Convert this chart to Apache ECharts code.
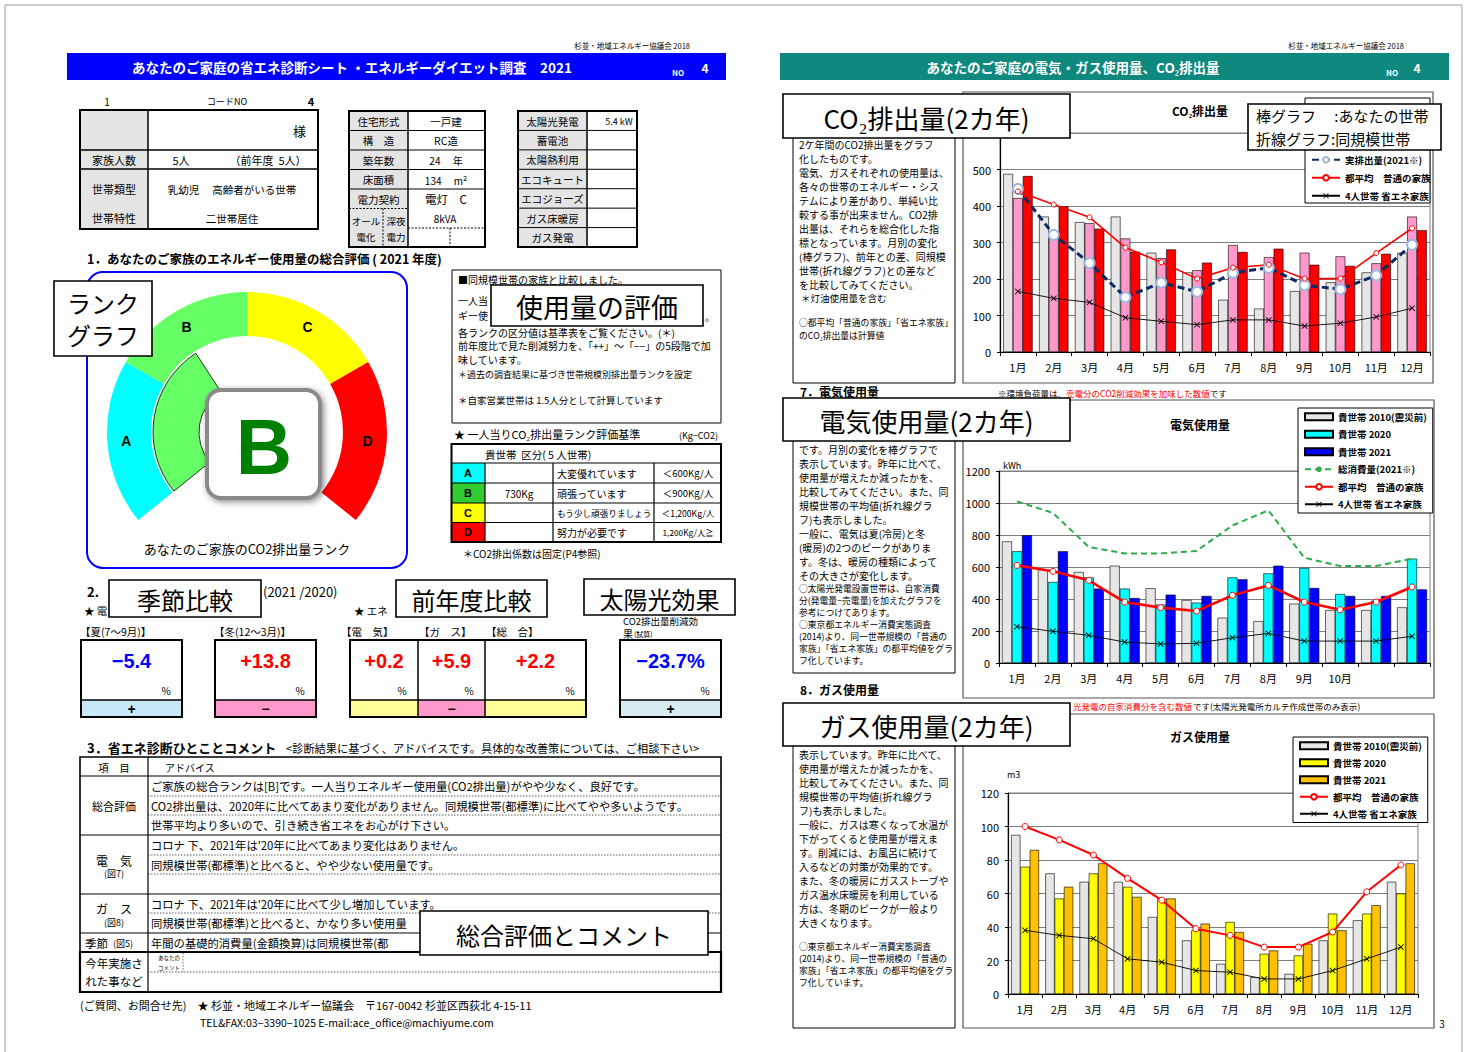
<!DOCTYPE html>
<html><head><meta charset="utf-8">
<script src="https://cdn.jsdelivr.net/npm/echarts@6/dist/echarts.min.js"></script>
<style>html,body{margin:0;padding:0;background:#fff}#c{width:1468px;height:1052px}</style>
</head><body><div id="c"></div>
<script>
// ---------------- DATA ----------------
const months = ['1月','2月','3月','4月','5月','6月','7月','8月','9月','10月','11月','12月'];
const elecMonthLabels = ['1月','2月','3月','4月','5月','6月','7月','8月','9月','10月','',''];
// CO2 (kg)
const co2Household2010 = [488,371,356,371,272,218,143,119,167,191,218,272];
const co2Household2020 = [422,312,353,311,257,224,293,260,272,262,243,371];
const co2Household2021 = [482,399,338,275,281,245,274,283,239,236,269,334];
const co2Actual2021    = [447,321,244,150,190,165,217,231,183,172,210,294];
const co2TokyoAvg      = [440,404,369,286,246,201,231,239,201,201,271,339];
const co2SavingFamily  = [166,147,136,94,84,75,88,88,71,79,96,120];
// Electricity (kWh)
const elecHousehold2010 = [760,585,569,608,467,394,283,262,371,331,331,348];
const elecHousehold2020 = [698,506,535,465,365,377,535,560,594,431,390,652];
const elecHousehold2021 = [798,698,465,406,427,419,523,608,469,419,419,460];
const elecTotal2021     = [1010,938,725,685,685,700,860,954,658,606,606,652];
const elecTokyoAvg      = [610,573,517,381,346,325,423,485,381,333,381,475];
const elecSavingFamily  = [227,198,173,131,119,123,158,185,137,137,137,167];
// Gas (m3)
const gasHousehold2010 = [95,72,67,67,46,32,18,10,12,32,44,67];
const gasHousehold2020 = [76,57,72,64,57,38,43,24,23,48,48,60];
const gasHousehold2021 = [86,64,78,58,57,42,37,26,30,38,53,78];
const gasTokyoAvg      = [100,92,83,69,56,39,35,28,28,37,61,77];
const gasSavingFamily  = [38,35,33,21,19,14,13,9,9,14,21,28];
// Rank gauge
const rankNames = ['A','B','C','D'];
const rankArcDeg = [69,60,60,69];
const rankColors = ['#00ffff','#66ff66','#ffff00','#ff0000'];
const myRankArcDeg = 96;

// ---------------- HELPERS ----------------
const FF = 'Noto Sans CJK JP';
const AR = 'Liberation Sans';
const G = [];
function T(x, y, text, o) {
  o = o || {};
  const a = o.a || 'left', va = o.va || 'middle';
  const st = {x: x, y: y, text: text, fill: o.c || '#000', fontSize: o.s || 11,
    fontWeight: o.b ? 'bold' : 'normal', fontFamily: o.f || FF,
    align: a, textAlign: a, verticalAlign: va, textVerticalAlign: va};
  if (o.lh) st.lineHeight = o.lh;
  if (o.rich) st.rich = o.rich;
  G.push({type: 'text', silent: true, z: o.z == null ? 20 : o.z, style: st});
}
function R(x, y, w, h, o) {
  o = o || {};
  const st = {fill: o.fill || 'none', stroke: o.stroke || 'none', lineWidth: o.lw == null ? 1 : o.lw};
  if (o.dash) st.lineDash = o.dash;
  if (o.shadow) { st.shadowBlur = o.shadow; st.shadowColor = 'rgba(0,0,0,0.45)'; st.shadowOffsetX = 2; st.shadowOffsetY = 2; }
  G.push({type: 'rect', silent: true, z: o.z == null ? 1 : o.z, shape: {x: x, y: y, width: w, height: h, r: o.r || 0}, style: st});
}
function L(x1, y1, x2, y2, o) {
  o = o || {};
  const st = {stroke: o.c || '#000', lineWidth: o.lw == null ? 1 : o.lw};
  if (o.dash) st.lineDash = o.dash;
  G.push({type: 'line', silent: true, z: o.z == null ? 5 : o.z, shape: {x1: x1, y1: y1, x2: x2, y2: y2}, style: st});
}
function BOX(x, y, w, h, text, s) {
  R(x, y, w, h, {fill: '#fff', stroke: '#000', lw: 1.6, z: 100});
  if (text) T(x + w / 2, y + h / 2 + 1, text, {s: s, a: 'center', z: 101});
}
function lines(x, y0, dy, arr, o) { arr.forEach(function (s, i) { T(x, y0 + i * dy, s, o); }); }

// ---------------- PAGE ----------------
R(5, 5, 1457, 1060, {stroke: '#9a9a9a', lw: 1, z: 0});

// ===== LEFT PAGE =====
T(690, 45, '杉並・地域エネルギー協議会 2018', {s: 7.5, a: 'right'});
R(67, 53, 659, 27, {fill: '#0000ff'});
T(352, 66.5, 'あなたのご家庭の省エネ診断シート ・エネルギーダイエット調査　2021', {s: 13.5, b: 1, c: '#fff', a: 'center'});
T(678, 72, 'NO', {s: 8, b: 1, c: '#fff', a: 'center'});
T(705, 67, '4', {s: 12, b: 1, c: '#fff', a: 'center'});

T(107, 101, '1', {s: 10, a: 'center'});
T(227, 101, 'コードNO', {s: 9, a: 'center'});
T(311, 101, '4', {s: 11, b: 1, a: 'center'});

// table 1
R(80, 110, 68, 119, {fill: '#e4e4e4'});
R(80, 110, 238, 119, {stroke: '#000', lw: 2, z: 6});
L(148, 110, 148, 229, {lw: 1.5});
L(80, 150, 318, 150, {lw: 1.5});
L(80, 169, 318, 169, {lw: 1.5});
T(306, 130, '様', {s: 13, a: 'right'});
T(114, 159.5, '家族人数', {s: 11, a: 'center'});
T(181, 159.5, '5人', {s: 11, a: 'center'});
T(268, 159.5, '（前年度  5人）', {s: 11, a: 'center'});
T(114, 189, '世帯類型', {s: 11, a: 'center'});
T(232, 189, '乳幼児　 高齢者がいる世帯', {s: 10.5, a: 'center'});
T(114, 218, '世帯特性', {s: 11, a: 'center'});
T(232, 218, '二世帯居住', {s: 10.5, a: 'center'});

// table 2
R(349, 111, 59, 136, {fill: '#e4e4e4'});
R(349, 111, 136, 136, {stroke: '#000', lw: 2, z: 6});
L(408, 111, 408, 247, {lw: 1.5});
[130.5, 150, 169.5, 189].forEach(function (y) { L(349, y, 485, y, {lw: 1}); });
L(349, 208.5, 408, 208.5, {lw: 1, dash: [2, 1.5]});
L(383, 208.5, 383, 247, {lw: 1, dash: [2, 1.5]});
L(408, 228, 485, 228, {lw: 1, dash: [2, 1.5]});
L(450, 228, 450, 247, {lw: 1, dash: [2, 1.5]});
lines(378.5, 121, 19.5, ['住宅形式', '構　造', '築年数', '床面積', '電力契約'], {s: 10.5, a: 'center'});
T(446, 121, '一戸建', {s: 10.5, a: 'center'});
T(446, 140.5, 'RC造', {s: 10.5, a: 'center'});
T(446, 160, '24　 年', {s: 10, a: 'center'});
T(446, 180, '134　 m²', {s: 10, a: 'center'});
T(446, 199, '電灯　C', {s: 11.5, a: 'center'});
T(445, 218, '8kVA', {s: 10, a: 'center'});
T(366, 221, 'オール', {s: 9.5, a: 'center'});
T(366, 237, '電化', {s: 9.5, a: 'center'});
T(396, 221, '深夜', {s: 9.5, a: 'center'});
T(396, 237, '電力', {s: 9.5, a: 'center'});

// table 3
R(518, 111, 69, 136, {fill: '#e4e4e4'});
R(518, 111, 119, 136, {stroke: '#000', lw: 2, z: 6});
L(587, 111, 587, 247, {lw: 1.5});
for (let i = 1; i < 7; i++) L(518, 111 + i * 19.43, 637, 111 + i * 19.43, {lw: 1});
lines(552.5, 121, 19.43, ['太陽光発電', '蓄電池', '太陽熱利用', 'エコキュート', 'エコジョーズ', 'ガス床暖房', 'ガス発電'], {s: 10.5, a: 'center'});
T(619, 121, '5.4 kW', {s: 9, a: 'center'});

// section 1
T(87, 258, '1．あなたのご家族のエネルギー使用量の総合評価 ( 2021 年度)', {s: 12.5, b: 1});
R(87, 272, 320, 296, {stroke: '#0000ff', lw: 2, r: 16});
BOX(54, 281, 98, 75, '', 24);
T(103, 318, 'ランク\nグラフ', {s: 24, a: 'center', z: 101, lh: 32});
R(207, 390, 113, 108, {fill: '#fff', stroke: '#8a8a8a', lw: 4, r: 14, z: 10, shadow: 6});
T(264, 447, 'B', {s: 78, b: 1, c: '#008000', f: AR, a: 'center', z: 11});
T(247, 548, 'あなたのご家族のCO2排出量ランク', {s: 13, a: 'center'});

// evaluation text box
R(452, 270, 269, 153, {stroke: '#000', lw: 1});
T(458, 279, '■同規模世帯の家族と比較しました。', {s: 10});
T(458, 300, '一人当', {s: 10});
T(458, 315, 'ギー使', {s: 10});
T(705, 316, '。', {s: 10});
T(458, 332, '各ランクの区分値は基準表をご覧ください。(＊)', {s: 10});
T(458, 345, '前年度比で見た削減努力を、「++」〜「−−」の5段階で加', {s: 10});
T(458, 359, '味しています。', {s: 10});
T(458, 374, '＊過去の調査結果に基づき世帯規模別排出量ランクを設定', {s: 9});
T(458, 400, '＊自家営業世帯は 1.5人分として計算しています', {s: 9.5});
BOX(491, 285, 212, 41, '使用量の評価', 27);

// rank table
T(454, 434, '★ 一人当りCO₂排出量ランク評価基準', {s: 11});
T(718, 435, '(Kg−CO2)', {s: 9, a: 'right'});
R(451.5, 444, 269.5, 98, {stroke: '#000', lw: 2, z: 6});
T(485, 454, '貴世帯  区分( 5 人世帯)', {s: 10.5});
const rankRowY = [463, 483, 503, 522.5, 542];
for (let i = 0; i < 4; i++) {
  R(451.5, rankRowY[i], 33.5, rankRowY[i + 1] - rankRowY[i], {fill: ['#00ffff', '#33cc33', '#ffff00', '#ff0000'][i]});
  L(451.5, rankRowY[i], 721, rankRowY[i], {lw: 1.2});
  T(468, (rankRowY[i] + rankRowY[i + 1]) / 2, rankNames[i], {s: 11, b: 1, f: AR, a: 'center'});
}
L(485, 463, 485, 542, {lw: 1.2});
L(553, 463, 553, 542, {lw: 1.2});
L(654, 463, 654, 542, {lw: 1.2});
T(519, 493, '730Kg', {s: 10, a: 'center'});
T(557, 473, '大変優れています', {s: 10});
T(557, 493, '頑張っています', {s: 10});
T(557, 513, 'もう少し頑張りましょう', {s: 8.6});
T(557, 532, '努力が必要です', {s: 10});
T(688, 473, '＜600Kg/人', {s: 9.5, a: 'center'});
T(688, 493, '＜900Kg/人', {s: 9.5, a: 'center'});
T(688, 513, '＜1,200Kg/人', {s: 8.6, a: 'center'});
T(688, 532, '1,200Kg/人≧', {s: 8.3, a: 'center'});
T(463, 553, '＊CO2排出係数は固定(P4参照)', {s: 10});

// section 2
T(87, 591, '2.', {s: 13, b: 1});
T(263, 591, '(2021 /2020)', {s: 13});
T(84, 610, '★ 電', {s: 10.5});
T(354, 610, '★ エネ', {s: 10.5});
T(623, 621, 'CO2排出量削減効', {s: 9.5});
T(623, 633, '果', {s: 10});
T(634, 634, '(試算)', {s: 7});
BOX(109, 580, 152, 37, '季節比較', 24);
BOX(396, 580, 151, 37, '前年度比較', 24);
BOX(584, 579, 151, 36, '太陽光効果', 24);
T(80, 631, '【夏(7〜9月)】', {s: 10.5});
T(214, 631, '【冬(12〜3月)】', {s: 10.5});
T(341, 631, '【電　気】', {s: 10.5});
T(419, 631, '【ガ　ス】', {s: 10.5});
T(486, 631, '【総　合】', {s: 10.5});
function valueBox(x, w, val, col, signText, signFill) {
  R(x, 700, w, 17, {fill: signFill});
  L(x, 700, x + w, 700, {lw: 1.5});
  T(x + w / 2, 661, val, {s: 20, b: 1, f: AR, c: col, a: 'center'});
  T(x + w - 16, 690, '%', {s: 10, a: 'center'});
  if (signText) T(x + w / 2, 708.5, signText, {s: 14, b: 1, f: AR, a: 'center'});
}
valueBox(81, 101, '−5.4', '#0000ff', '+', '#c8e8f8');
R(81, 640, 101, 77, {stroke: '#000', lw: 2, z: 6});
valueBox(215, 101, '+13.8', '#ff0000', '−', '#ff99cc');
R(215, 640, 101, 77, {stroke: '#000', lw: 2, z: 6});
valueBox(350, 68, '+0.2', '#ff0000', '', '#ffff99');
valueBox(418, 67, '+5.9', '#ff0000', '−', '#ff99cc');
valueBox(485, 101, '+2.2', '#ff0000', '', '#ffff99');
L(418, 640, 418, 717, {lw: 1.5});
L(485, 640, 485, 717, {lw: 1.5});
R(350, 640, 236, 77, {stroke: '#000', lw: 2, z: 6});
valueBox(620, 101, '−23.7%', '#0000ff', '+', '#d8ecf4');
R(620, 640, 101, 77, {stroke: '#000', lw: 2, z: 6});

// section 3
T(87, 747, '3．省エネ診断ひとことコメント', {s: 13, b: 1});
T(286, 748, '<診断結果に基づく、アドバイスです。具体的な改善策については、ご相談下さい>', {s: 11.2});
R(80, 757, 641, 195, {stroke: '#000', lw: 1.6, z: 6});
R(80, 952, 641, 40, {stroke: '#000', lw: 2.2, z: 6});
L(148, 757, 148, 992, {lw: 1.2});
[776, 835, 894, 933].forEach(function (y) { L(80, y, 721, y, {lw: 1.2}); });
[796, 815, 855, 874, 913, 972].forEach(function (y) { L(148, y, 721, y, {lw: 0.8, dash: [1.5, 1.5], c: '#333'}); });
L(183, 953, 183, 972, {lw: 0.8, dash: [1.5, 1.5], c: '#555'});
T(114, 767, '項　目', {s: 10.5, a: 'center'});
T(165, 767, 'アドバイス', {s: 10});
T(114, 806, '総合評価', {s: 11, a: 'center'});
T(114, 860, '電　気', {s: 12, a: 'center'});
T(114, 873, '(図7)', {s: 9, a: 'center'});
T(114, 908, 'ガ　ス', {s: 12, a: 'center'});
T(114, 922, '(図8)', {s: 9, a: 'center'});
T(85, 943, '季節', {s: 11.5});
T(113, 943, '(図5)', {s: 9});
T(114, 963, '今年実施さ', {s: 11.5, a: 'center'});
T(114, 981, 'れた事など', {s: 11.5, a: 'center'});
T(158, 958, 'あなたの', {s: 5.5});
T(158, 968, 'コメント', {s: 5.5});
T(151, 786, 'ご家族の総合ランクは[B]です。一人当りエネルギー使用量(CO2排出量)がやや少なく、良好です。', {s: 11.3});
T(151, 806, 'CO2排出量は、2020年に比べてあまり変化がありません。同規模世帯(都標準)に比べてやや多いようです。', {s: 11.3});
T(151, 825, '世帯平均より多いので、引き続き省エネをお心がけ下さい。', {s: 11.3});
T(151, 845, 'コロナ 下、2021年は\'20年に比べてあまり変化はありません。', {s: 11.3});
T(151, 865, '同規模世帯(都標準)と比べると、やや少ない使用量です。', {s: 11.3});
T(151, 903.5, 'コロナ 下、2021年は\'20年に比べて少し増加しています。', {s: 11.3});
T(151, 923, '同規模世帯(都標準)と比べると、かなり多い使用量', {s: 11.3});
T(151, 943, '年間の基礎的消費量(金額換算)は同規模世帯(都', {s: 11.3});
BOX(420, 911, 288, 44, '総合評価とコメント', 24);

T(80, 1005, '(ご質問、お問合せ先)　★ 杉並・地域エネルギー協議会　〒167-0042 杉並区西荻北 4-15-11', {s: 11});
T(200, 1022, 'TEL&FAX:03−3390−1025 E-mail:ace_office@machiyume.com', {s: 10.5});

// ===== RIGHT PAGE =====
T(1404, 45, '杉並・地域エネルギー協議会 2018', {s: 7.5, a: 'right'});
R(780, 53, 669, 27, {fill: '#0f887d'});
T(1073, 66.5, 'あなたのご家庭の電気・ガス使用量、CO₂排出量', {s: 13.5, b: 1, c: '#fff', a: 'center'});
T(1392, 72, 'NO', {s: 8, b: 1, c: '#fff', a: 'center'});
T(1417, 67, '4', {s: 12, b: 1, c: '#fff', a: 'center'});

// chart frames
R(963, 92, 470, 291, {stroke: '#555', lw: 1.2});
R(963, 400, 471, 298, {stroke: '#555', lw: 1.2});
R(963, 714, 471, 314, {stroke: '#555', lw: 1.2});
T(1200, 110, 'CO₂排出量', {s: 12, b: 1, a: 'center'});
T(1200, 424, '電気使用量', {s: 12, b: 1, a: 'center'});
T(1200, 736, 'ガス使用量', {s: 12, b: 1, a: 'center'});
T(1003, 465, 'kWh', {s: 9});
T(1007, 774, 'm3', {s: 9});
T(1442, 1023, '3', {s: 10, a: 'center'});
// CO2 legend frame (upper part hidden by the overlay box)
R(1305, 98, 125, 105, {fill: '#fff', stroke: '#000', lw: 1, z: 3});

// CO2 text box
R(793, 120, 162, 263, {stroke: '#000', lw: 1});
lines(799, 144, 14, ['2ケ年間のCO2排出量をグラフ', '化したものです。', '電気、ガスそれぞれの使用量は、', '各々の世帯のエネルギー・シス', 'テムにより差があり、単純い比', '較する事が出来ません。CO2排', '出量は、それらを総合化した指', '標となっています。月別の変化', '(棒グラフ)、前年との差、同規模', '世帯(折れ線グラフ)との差など', 'を比較してみてください。'], {s: 10});
T(801, 298, '＊灯油使用量を含む', {s: 9.5});
T(799, 322, '○都平均「普通の家族」「省エネ家族」', {s: 8.8});
T(799, 335, 'のCO₂排出量は計算値', {s: 8.8});
BOX(783, 94, 287, 44, 'CO₂排出量(2カ年)', 26);
BOX(1248, 104, 193, 46, '', 16);
T(1256, 115.5, '棒グラフ　 :あなたの世帯', {s: 15, z: 101});
T(1256, 138.5, '折線グラフ:同規模世帯', {s: 15, z: 101});
T(998, 393, '{k|※環境負荷量は、}{r|売電分のCO2削減効果を加味した数値}{k|です}', {s: 8.5, rich: {k: {fill: '#000', fontSize: 8.5, fontFamily: FF}, r: {fill: '#ff0000', fontSize: 8.5, fontFamily: FF}}});

// electricity text box
T(800, 391, '7．電気使用量', {s: 12, b: 1});
R(793, 430, 162, 243, {stroke: '#000', lw: 1});
lines(799, 449, 14, ['です。月別の変化を棒グラフで', '表示しています。昨年に比べて、', '使用量が増えたか減ったかを、', '比較してみてください。また、同', '規模世帯の平均値(折れ線グラ', 'フ)も表示しました。', '一般に、電気は夏(冷房)と冬', '(暖房)の2つのピークがありま', 'す。冬は、暖房の種類によって', 'その大きさが変化します。'], {s: 10});
lines(799, 588, 12, ['○太陽光発電設置世帯は、自家消費', '分(発電量−売電量)を加えたグラフを', '参考につけてあります。', '○東京都エネルギー消費実態調査', '(2014)より、同一世帯規模の「普通の', '家族」「省エネ家族」の都平均値をグラ', 'フ化しています。'], {s: 8.8});
BOX(783, 398, 287, 43, '電気使用量(2カ年)', 26);
T(800, 689, '8．ガス使用量', {s: 12, b: 1});
T(1073, 706, '光発電の自家消費分を含む数値', {s: 8.5, c: '#ff0000'});
T(1193, 706, 'です(太陽光発電所カルテ作成世帯のみ表示)', {s: 8.5});

// gas text box
R(793, 735, 162, 293, {stroke: '#000', lw: 1});
lines(799, 754, 14, ['表示しています。昨年に比べて、', '使用量が増えたか減ったかを、', '比較してみてください。また、同', '規模世帯の平均値(折れ線グラ', 'フ)も表示しました。', '一般に、ガスは寒くなって水温が', '下がってくると使用量が増えま', 'す。削減には、お風呂に続けて', '入るなどの対策が効果的です。', 'また、冬の暖房にガスストーブや', 'ガス温水床暖房を利用している', '方は、冬期のピークが一般より', '大きくなります。'], {s: 10});
lines(799, 946, 12, ['○東京都エネルギー消費実態調査', '(2014)より、同一世帯規模の「普通の', '家族」「省エネ家族」の都平均値をグラ', 'フ化しています。'], {s: 8.8});
BOX(783, 703, 287, 43, 'ガス使用量(2カ年)', 26);

// ---------------- CHART OPTION ----------------
const XMARK = 'path://M0,1L1,0L5,4L9,0L10,1L6,5L10,9L9,10L5,6L1,10L0,9L4,5Z';
function bar(gi, name, data, color, bw) {
  return {type: 'bar', name: name, data: data, xAxisIndex: gi, yAxisIndex: gi, barWidth: bw, barGap: '0%',
    itemStyle: {color: color, borderColor: '#000', borderWidth: 0.6}, silent: true, z: 2};
}
function line(gi, name, data, ls, sym, symSize, is) {
  return {type: 'line', name: name, data: data, xAxisIndex: gi, yAxisIndex: gi, lineStyle: ls,
    symbol: sym, symbolSize: symSize, showSymbol: sym !== 'none', itemStyle: is, silent: true, z: 5};
}
const series = [
  bar(0, 'co2|貴世帯 2010(震災前)', co2Household2010, '#e6e6e6', 9.8),
  bar(0, 'co2|貴世帯 2020', co2Household2020, '#ff99cc', 9.8),
  bar(0, 'co2|貴世帯 2021', co2Household2021, '#ff0000', 9.8),
  line(0, 'co2|実排出量(2021※)', co2Actual2021, {color: '#0b2a66', width: 3, type: [7, 4]}, 'circle', 10, {color: '#fff', borderColor: '#9fb6dc', borderWidth: 2}),
  line(0, 'co2|都平均　普通の家族', co2TokyoAvg, {color: '#ff0000', width: 1.6}, 'circle', 5, {color: '#fff', borderColor: '#ff0000', borderWidth: 1}),
  line(0, 'co2|4人世帯 省エネ家族', co2SavingFamily, {color: '#000', width: 0.9}, XMARK, 6, {color: '#000'}),

  bar(1, 'el|貴世帯 2010(震災前)', elecHousehold2010, '#e6e6e6', 10),
  bar(1, 'el|貴世帯 2020', elecHousehold2020, '#00ffff', 10),
  bar(1, 'el|貴世帯 2021', elecHousehold2021, '#0000ff', 10),
  line(1, 'el|総消費量(2021※)', elecTotal2021, {color: '#2eaa4a', width: 2, type: [6, 4]}, 'none', 0, {color: '#2eaa4a'}),
  line(1, 'el|都平均　普通の家族', elecTokyoAvg, {color: '#ff0000', width: 2.6}, 'circle', 6, {color: '#fff', borderColor: '#ff0000', borderWidth: 1}),
  line(1, 'el|4人世帯 省エネ家族', elecSavingFamily, {color: '#000', width: 0.9}, XMARK, 6, {color: '#000'}),

  bar(2, 'gas|貴世帯 2010(震災前)', gasHousehold2010, '#e6e6e6', 9.3),
  bar(2, 'gas|貴世帯 2020', gasHousehold2020, '#ffff00', 9.3),
  bar(2, 'gas|貴世帯 2021', gasHousehold2021, '#ffc000', 9.3),
  line(2, 'gas|都平均　普通の家族', gasTokyoAvg, {color: '#ff0000', width: 2}, 'circle', 6, {color: '#fff', borderColor: '#ff0000', borderWidth: 1}),
  line(2, 'gas|4人世帯 省エネ家族', gasSavingFamily, {color: '#000', width: 0.9}, XMARK, 6, {color: '#000'}),

  {type: 'pie', silent: true, center: [247, 432], radius: [96, 140], startAngle: 219, clockwise: true,
    avoidLabelOverlap: false, emphasis: {disabled: true}, z: 2,
    label: {show: true, position: 'inside', formatter: '{b}', fontSize: 14, fontWeight: 'bold', color: '#000', fontFamily: AR},
    labelLine: {show: false},
    data: rankNames.map(function (n, i) { return {name: n, value: rankArcDeg[i], itemStyle: {color: rankColors[i]}}; })
      .concat([{name: '', value: 360 - rankArcDeg.reduce(function (a, b) { return a + b; }, 0), itemStyle: {color: 'rgba(0,0,0,0)'}, label: {show: false}}])},
  {type: 'pie', silent: true, center: [247, 432], radius: [48, 94], startAngle: 219, clockwise: true,
    emphasis: {disabled: true}, z: 3, label: {show: false}, labelLine: {show: false},
    data: [{name: 'my', value: myRankArcDeg, itemStyle: {color: '#66ff66', borderColor: '#000', borderWidth: 0.8}},
      {name: ' ', value: 360 - myRankArcDeg, itemStyle: {color: 'rgba(0,0,0,0)'}}]}
];

function xAx(gi, data) {
  return {gridIndex: gi, type: 'category', data: data,
    axisLine: {lineStyle: {color: '#000', width: 1.2}},
    axisTick: {show: true, length: 4, lineStyle: {color: '#000'}},
    axisLabel: {interval: 0, fontSize: 11, color: '#000', margin: 9, fontFamily: FF}};
}
function yAx(gi, max, interval, hideTop) {
  return {gridIndex: gi, type: 'value', min: 0, max: max, interval: interval,
    axisLine: {show: true, lineStyle: {color: '#000', width: 1.2}},
    axisTick: {show: true, length: 3, lineStyle: {color: '#000'}},
    splitLine: {show: true, lineStyle: {color: '#7f7f7f', width: 1}},
    axisLabel: {fontSize: 11, color: '#000', margin: 9, fontFamily: FF,
      formatter: function (v) { return (hideTop && v === max) ? '' : String(v); }}};
}
function legend(prefix, left, top, gap, names, barCount, framed) {
  return {orient: 'vertical', left: left, top: top, itemWidth: 28, itemHeight: 7, itemGap: gap,
    padding: [4, 6], backgroundColor: framed ? '#fff' : 'transparent', borderColor: '#000', borderWidth: framed ? 1 : 0,
    selectedMode: false, z: 4,
    textStyle: {fontSize: 9.5, fontWeight: 'bold', fontFamily: FF, color: '#000'},
    formatter: function (n) { return n.split('|')[1]; },
    data: names.map(function (n, i) { return i < barCount ? {name: prefix + '|' + n, icon: 'rect'} : {name: prefix + '|' + n}; })};
}

const option = {
  animation: false,
  backgroundColor: '#fff',
  grid: [
    {left: 1000, top: 133, width: 430, height: 219, show: true, borderColor: '#7f7f7f', borderWidth: 1},
    {left: 999, top: 471, width: 431, height: 192, show: true, borderColor: '#7f7f7f', borderWidth: 1},
    {left: 1008, top: 793, width: 410, height: 201, show: true, borderColor: '#7f7f7f', borderWidth: 1}
  ],
  xAxis: [xAx(0, months), xAx(1, elecMonthLabels), xAx(2, months)],
  yAxis: [yAx(0, 600, 100, true), yAx(1, 1200, 200, false), yAx(2, 120, 20, false)],
  legend: [
    legend('co2', 1305, 151, 8.5, ['実排出量(2021※)', '都平均　普通の家族', '4人世帯 省エネ家族'], 0, false),
    legend('el', 1298, 408, 8, ['貴世帯 2010(震災前)', '貴世帯 2020', '貴世帯 2021', '総消費量(2021※)', '都平均　普通の家族', '4人世帯 省エネ家族'], 3, true),
    legend('gas', 1293, 737, 7.5, ['貴世帯 2010(震災前)', '貴世帯 2020', '貴世帯 2021', '都平均　普通の家族', '4人世帯 省エネ家族'], 3, true)
  ],
  series: series,
  graphic: {elements: G}
};
const chart = echarts.init(document.getElementById('c'), null, {renderer: 'svg', width: 1468, height: 1052});
chart.setOption(option);
</script>
</body></html>
